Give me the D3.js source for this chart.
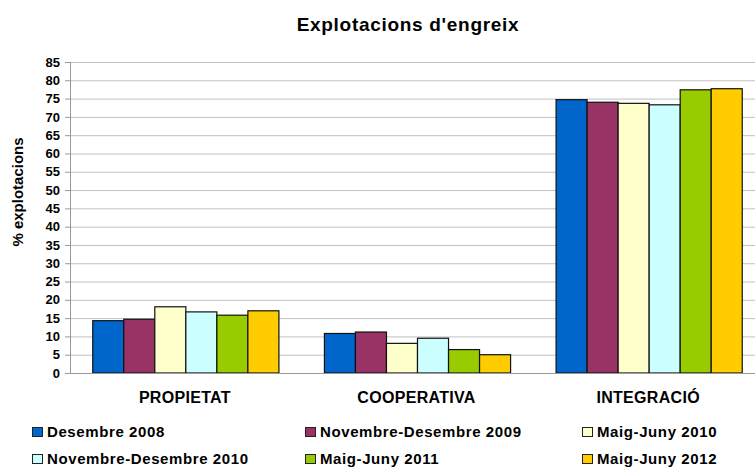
<!DOCTYPE html>
<html>
<head>
<meta charset="utf-8">
<script src="https://cdn.jsdelivr.net/npm/d3@7"></script>
<style>
  body { margin: 0; background: #fff; }
  svg { display: block; font-family: "Liberation Sans", Arial, sans-serif; font-weight: bold; }
</style>
</head>
<body>
<svg id="chart" width="755" height="468"></svg>
<script>
// data
let categories = ['PROPIETAT', 'COOPERATIVA', 'INTEGRACIÓ'];
let seriesNames = ['Desembre 2008', 'Novembre-Desembre 2009', 'Maig-Juny 2010',
                   'Novembre-Desembre 2010', 'Maig-Juny 2011', 'Maig-Juny 2012'];
let seriesColors = ['#0066cc', '#993366', '#ffffcc', '#ccffff', '#99cc00', '#ffcc00'];
let desembre2008 = [14.3, 10.8, 74.7];
let novDes2009 = [14.7, 11.2, 74.0];
let maigJuny2010 = [18.1, 8.1, 73.7];
let novDes2010 = [16.7, 9.5, 73.3];
let maigJuny2011 = [15.8, 6.4, 77.4];
let maigJuny2012 = [17.0, 5.0, 77.7];
let seriesValues = [desembre2008, novDes2009, maigJuny2010, novDes2010, maigJuny2011, maigJuny2012];
let yTicks = d3.range(0, 86, 5);

var svg = d3.select('#chart');
var pLeft = 70, pRight = 765, pTop = 62, pBottom = 373;

var x = d3.scaleBand().domain(categories).range([pLeft, pRight]).paddingInner(0).paddingOuter(0);
var x1 = d3.scaleBand().domain(seriesNames).range([22.75, x.bandwidth() - 22.75]).padding(0);
var y = d3.scaleLinear().domain([0, 85]).range([pBottom, pTop]);

// grid
svg.append('g')
    .attr('transform', 'translate(' + pLeft + ',0)')
    .call(d3.axisLeft(y).tickValues(yTicks).tickSize(-(pRight - pLeft)).tickFormat(''))
    .call(g => g.select('.domain').remove())
    .selectAll('.tick line').attr('stroke', '#c0c0c0');

// bars
svg.append('g')
    .selectAll('g')
    .data(seriesValues)
    .enter()
    .append('g')
    .attr('fill', (d, i) => seriesColors[i])
    .selectAll('rect')
    .data((d, i) => d.map((v, j) => ({ cat: categories[j], s: seriesNames[i], v: v })))
    .enter()
    .append('rect')
    .attr('x', d => x(d.cat) + x1(d.s))
    .attr('y', d => y(d.v))
    .attr('width', x1.bandwidth())
    .attr('height', d => y(0) - y(d.v))
    .attr('stroke', '#111')
    .attr('stroke-width', 1.2);

// y axis
var yAxis = svg.append('g')
    .attr('transform', 'translate(' + pLeft + ',0)')
    .call(d3.axisLeft(y).tickValues(yTicks).tickSize(5).tickPadding(5));
yAxis.select('.domain').attr('stroke', '#999').attr('d', 'M0.5,' + pTop + 'V' + pBottom);
yAxis.selectAll('.tick line').attr('stroke', '#999');
yAxis.selectAll('text').attr('font-size', '13px').attr('font-weight', 'bold').attr('fill', '#000')
    .attr('font-family', '"Liberation Sans", Arial, sans-serif');

// x axis line
svg.append('line')
    .attr('x1', pLeft).attr('x2', pRight)
    .attr('y1', pBottom + 0.5).attr('y2', pBottom + 0.5)
    .attr('stroke', '#999');

// category labels
svg.append('g')
    .selectAll('text')
    .data(categories)
    .enter()
    .append('text')
    .attr('x', d => x(d) + x.bandwidth() / 2 - 1)
    .attr('y', 403)
    .attr('text-anchor', 'middle')
    .attr('font-size', '16px')
    .attr('letter-spacing', '0.3px')
    .text(d => d);

// title
svg.append('text')
    .attr('x', 408).attr('y', 31)
    .attr('text-anchor', 'middle')
    .attr('font-size', '19px')
    .attr('letter-spacing', '0.7px')
    .text("Explotacions d'engreix");

// y label
svg.append('text')
    .attr('transform', 'translate(23,192) rotate(-90)')
    .attr('text-anchor', 'middle')
    .attr('font-size', '15px')
    .text('% explotacions');

// legend
var legX = [32, 305, 582];
var legY = [437, 464];
var leg = svg.append('g')
    .selectAll('g')
    .data(seriesNames)
    .enter()
    .append('g')
    .attr('transform', (d, i) => 'translate(' + legX[i % 3] + ',' + legY[Math.floor(i / 3)] + ')');
leg.append('rect')
    .attr('x', 0.5).attr('y', -9.5)
    .attr('width', 10).attr('height', 9)
    .attr('fill', (d, i) => seriesColors[i])
    .attr('stroke', '#222');
leg.append('text')
    .attr('x', 15).attr('y', 0)
    .attr('font-size', '15px')
    .attr('letter-spacing', '0.6px')
    .text(d => d);
</script>
</body>
</html>
